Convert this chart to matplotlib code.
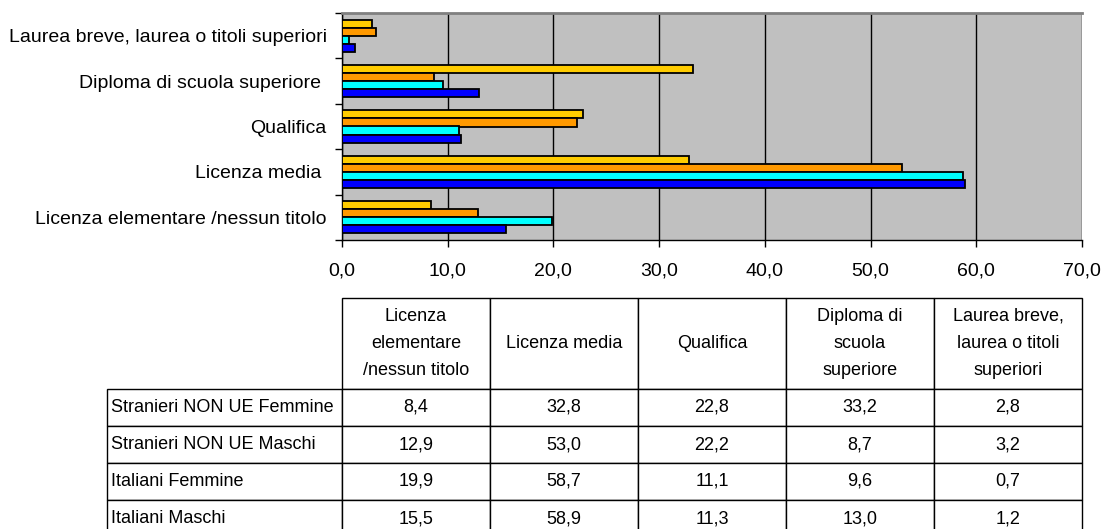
import matplotlib
matplotlib.use("Agg")
import matplotlib.pyplot as plt
from matplotlib.table import Table
import numpy as np

# ------------------- DATA -------------------
CATEGORIES = ["Licenza elementare /nessun titolo", "Licenza media ", "Qualifica",
              "Diploma di scuola superiore ", "Laurea breve, laurea o titoli superiori"]
HEADERS = ["Licenza\nelementare\n/nessun titolo", "Licenza media", "Qualifica",
           "Diploma di\nscuola\nsuperiore", "Laurea breve,\nlaurea o titoli\nsuperiori"]
SERIES = ["Stranieri NON UE Femmine", "Stranieri NON UE Maschi",
          "Italiani Femmine", "Italiani Maschi"]
stranieri_f = [8.4, 32.8, 22.8, 33.2, 2.8]
stranieri_m = [12.9, 53.0, 22.2, 8.7, 3.2]
italiani_f = [19.9, 58.7, 11.1, 9.6, 0.7]
italiani_m = [15.5, 58.9, 11.3, 13.0, 1.2]
X_TICKS = [0, 10, 20, 30, 40, 50, 60, 70]
X_TICK_LABELS = ["0,0", "10,0", "20,0", "30,0", "40,0", "50,0", "60,0", "70,0"]
# ---------------------------------------------

COLORS = ["#FFCC00", "#FF9900", "#00FFFF", "#0000FF"]
FONT = "Liberation Sans"
W, H = 1104, 529

plt.rcParams["font.family"] = [FONT, "DejaVu Sans"]

fig = plt.figure(figsize=(W / 100, H / 100), dpi=100)

# --- bar chart ---
ax = fig.add_axes([342 / W, 1 - 240 / H, 740 / W, 227 / H])
ax.set_facecolor("#C0C0C0")

y = np.arange(len(CATEGORIES))
bar_h = 0.178
all_series = [stranieri_f, stranieri_m, italiani_f, italiani_m]
offsets = [1.5, 0.5, -0.5, -1.5]
for vals, off, col in zip(all_series, offsets, COLORS):
    ax.barh(y + off * bar_h, vals, height=bar_h, color=col,
            edgecolor="black", linewidth=1.3, zorder=3)

ax.set_xlim(0, 70)
ax.set_ylim(-0.5, len(CATEGORIES) - 0.5)
ax.set_xticks(X_TICKS)
ax.set_xticklabels(X_TICK_LABELS, fontsize=14)
ax.set_yticks(np.arange(-0.5, len(CATEGORIES)))
ax.set_yticklabels([])
ax.set_yticks(y, minor=True)
ax.set_yticklabels(CATEGORIES, minor=True, fontsize=14)
ax.tick_params(axis="y", which="minor", length=0, pad=11)
ax.tick_params(axis="y", which="major", length=5, width=1)
ax.tick_params(axis="x", length=5, width=1, pad=11)
ax.grid(axis="x", color="black", linewidth=1, zorder=1)

for side in ["left", "bottom"]:
    ax.spines[side].set_color("black")
    ax.spines[side].set_linewidth(1)
ax.spines["top"].set_color("#808080")
ax.spines["top"].set_linewidth(2)
ax.spines["right"].set_visible(False)

# --- table ---
tax = fig.add_axes([0, 0, 1, 1])
tax.axis("off")
tax.set_xlim(0, W)
tax.set_ylim(H, 0)

tbl = Table(tax, bbox=[107 / W, 1 - 537 / H, 975 / W, 239 / H])
col_w = [235] + [148] * len(HEADERS)
head_h, row_h = 91, 37

tbl.add_cell(0, 0, col_w[0], head_h, text="")
tbl[0, 0].visible_edges = ""
for j, hd in enumerate(HEADERS):
    tbl.add_cell(0, j + 1, col_w[j + 1], head_h, text=hd, loc="center")

for i, (name, vals) in enumerate(zip(SERIES, all_series)):
    c = tbl.add_cell(i + 1, 0, col_w[0], row_h, text=name, loc="left")
    c.PAD = 0.015
    for j, v in enumerate(vals):
        tbl.add_cell(i + 1, j + 1, col_w[j + 1], row_h,
                     text=f"{v:.1f}".replace(".", ","), loc="center")

tbl.auto_set_font_size(False)
tbl.set_fontsize(13)
for (r, c), cell in tbl.get_celld().items():
    cell.set_edgecolor("black")
    cell.set_linewidth(1)
    cell.get_text().set_multialignment("center")
    cell.get_text().set_linespacing(1.8)
tax.add_table(tbl)

fig.savefig("out.png", dpi=100)
